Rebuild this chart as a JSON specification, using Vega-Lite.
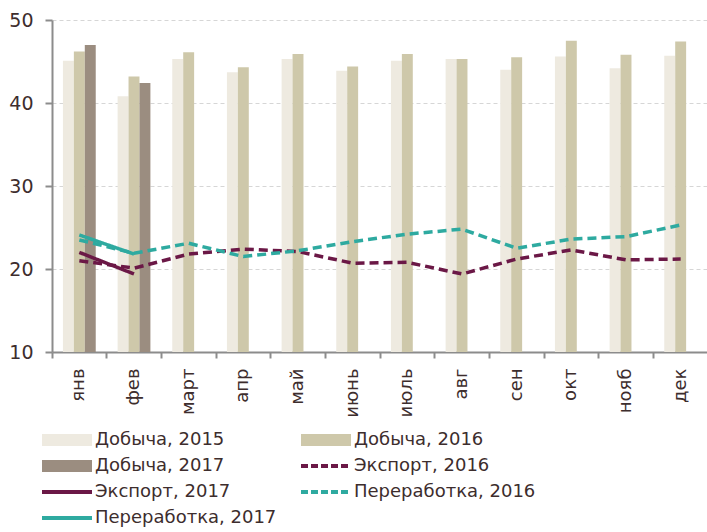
{
  "$schema": "https://vega.github.io/schema/vega-lite/v6.json",
  "width": 656,
  "height": 332,
  "autosize": {"type": "none"},
  "padding": {"left": 52, "top": 20, "right": 0, "bottom": 180},
  "background": "white",
  "config": {"view": {"stroke": null}},
  "data": {
    "values": [
      {"m": "янв", "s": "Добыча, 2015", "v": 45.1, "t": "bar"},
      {"m": "фев", "s": "Добыча, 2015", "v": 40.8, "t": "bar"},
      {"m": "март", "s": "Добыча, 2015", "v": 45.3, "t": "bar"},
      {"m": "апр", "s": "Добыча, 2015", "v": 43.7, "t": "bar"},
      {"m": "май", "s": "Добыча, 2015", "v": 45.3, "t": "bar"},
      {"m": "июнь", "s": "Добыча, 2015", "v": 43.9, "t": "bar"},
      {"m": "июль", "s": "Добыча, 2015", "v": 45.1, "t": "bar"},
      {"m": "авг", "s": "Добыча, 2015", "v": 45.3, "t": "bar"},
      {"m": "сен", "s": "Добыча, 2015", "v": 44.0, "t": "bar"},
      {"m": "окт", "s": "Добыча, 2015", "v": 45.6, "t": "bar"},
      {"m": "нояб", "s": "Добыча, 2015", "v": 44.2, "t": "bar"},
      {"m": "дек", "s": "Добыча, 2015", "v": 45.7, "t": "bar"},
      {"m": "янв", "s": "Добыча, 2016", "v": 46.2, "t": "bar"},
      {"m": "фев", "s": "Добыча, 2016", "v": 43.2, "t": "bar"},
      {"m": "март", "s": "Добыча, 2016", "v": 46.1, "t": "bar"},
      {"m": "апр", "s": "Добыча, 2016", "v": 44.3, "t": "bar"},
      {"m": "май", "s": "Добыча, 2016", "v": 45.9, "t": "bar"},
      {"m": "июнь", "s": "Добыча, 2016", "v": 44.4, "t": "bar"},
      {"m": "июль", "s": "Добыча, 2016", "v": 45.9, "t": "bar"},
      {"m": "авг", "s": "Добыча, 2016", "v": 45.3, "t": "bar"},
      {"m": "сен", "s": "Добыча, 2016", "v": 45.5, "t": "bar"},
      {"m": "окт", "s": "Добыча, 2016", "v": 47.5, "t": "bar"},
      {"m": "нояб", "s": "Добыча, 2016", "v": 45.8, "t": "bar"},
      {"m": "дек", "s": "Добыча, 2016", "v": 47.4, "t": "bar"},
      {"m": "янв", "s": "Добыча, 2017", "v": 47.0, "t": "bar"},
      {"m": "фев", "s": "Добыча, 2017", "v": 42.4, "t": "bar"},
      {"m": "янв", "s": "Экспорт, 2016", "v": 21.0, "t": "line", "d": "dash"},
      {"m": "фев", "s": "Экспорт, 2016", "v": 20.1, "t": "line", "d": "dash"},
      {"m": "март", "s": "Экспорт, 2016", "v": 21.8, "t": "line", "d": "dash"},
      {"m": "апр", "s": "Экспорт, 2016", "v": 22.4, "t": "line", "d": "dash"},
      {"m": "май", "s": "Экспорт, 2016", "v": 22.1, "t": "line", "d": "dash"},
      {"m": "июнь", "s": "Экспорт, 2016", "v": 20.7, "t": "line", "d": "dash"},
      {"m": "июль", "s": "Экспорт, 2016", "v": 20.8, "t": "line", "d": "dash"},
      {"m": "авг", "s": "Экспорт, 2016", "v": 19.4, "t": "line", "d": "dash"},
      {"m": "сен", "s": "Экспорт, 2016", "v": 21.2, "t": "line", "d": "dash"},
      {"m": "окт", "s": "Экспорт, 2016", "v": 22.3, "t": "line", "d": "dash"},
      {"m": "нояб", "s": "Экспорт, 2016", "v": 21.1, "t": "line", "d": "dash"},
      {"m": "дек", "s": "Экспорт, 2016", "v": 21.2, "t": "line", "d": "dash"},
      {"m": "янв", "s": "Экспорт, 2017", "v": 22.0, "t": "line", "d": "solid"},
      {"m": "фев", "s": "Экспорт, 2017", "v": 19.4, "t": "line", "d": "solid"},
      {"m": "янв", "s": "Переработка, 2016", "v": 23.5, "t": "line", "d": "dash"},
      {"m": "фев", "s": "Переработка, 2016", "v": 21.9, "t": "line", "d": "dash"},
      {"m": "март", "s": "Переработка, 2016", "v": 23.1, "t": "line", "d": "dash"},
      {"m": "апр", "s": "Переработка, 2016", "v": 21.5, "t": "line", "d": "dash"},
      {"m": "май", "s": "Переработка, 2016", "v": 22.2, "t": "line", "d": "dash"},
      {"m": "июнь", "s": "Переработка, 2016", "v": 23.3, "t": "line", "d": "dash"},
      {"m": "июль", "s": "Переработка, 2016", "v": 24.2, "t": "line", "d": "dash"},
      {"m": "авг", "s": "Переработка, 2016", "v": 24.8, "t": "line", "d": "dash"},
      {"m": "сен", "s": "Переработка, 2016", "v": 22.5, "t": "line", "d": "dash"},
      {"m": "окт", "s": "Переработка, 2016", "v": 23.6, "t": "line", "d": "dash"},
      {"m": "нояб", "s": "Переработка, 2016", "v": 23.9, "t": "line", "d": "dash"},
      {"m": "дек", "s": "Переработка, 2016", "v": 25.3, "t": "line", "d": "dash"},
      {"m": "янв", "s": "Переработка, 2017", "v": 24.1, "t": "line", "d": "solid"},
      {"m": "фев", "s": "Переработка, 2017", "v": 21.8, "t": "line", "d": "solid"}
    ]
  },
  "encoding": {
    "x": {
      "field": "m",
      "type": "nominal",
      "sort": ["янв", "фев", "март", "апр", "май", "июнь", "июль", "авг", "сен", "окт", "нояб", "дек"],
      "scale": {"paddingInner": 0, "paddingOuter": 0},
      "axis": {
        "title": null,
        "bandPosition": 0,
        "labelAngle": 270,
        "labelAlign": "right",
        "labelBaseline": "middle",
        "labelFont": "DejaVu Sans",
        "labelFontSize": 18,
        "labelColor": "#3d2d2d",
        "labelPadding": 10,
        "tickSize": 6,
        "tickWidth": 2,
        "tickColor": "#8c8c8c",
        "domainColor": "#8c8c8c",
        "domainWidth": 2,
        "grid": false
      }
    },
    "y": {
      "field": "v",
      "type": "quantitative",
      "scale": {"domain": [10, 50], "nice": false, "zero": false},
      "axis": {
        "title": null,
        "values": [10, 20, 30, 40, 50],
        "labelFont": "DejaVu Sans",
        "labelFontSize": 19,
        "labelColor": "#3d2d2d",
        "labelPadding": 12,
        "tickSize": 7,
        "tickWidth": 2,
        "tickColor": "#8c8c8c",
        "domainColor": "#8c8c8c",
        "domainWidth": 2,
        "grid": true,
        "gridColor": "#d6d6d6",
        "gridDash": [4, 3],
        "gridWidth": 1
      }
    },
    "color": {
      "field": "s",
      "type": "nominal",
      "scale": {
        "domain": ["Добыча, 2015", "Добыча, 2016", "Добыча, 2017", "Экспорт, 2016", "Экспорт, 2017", "Переработка, 2016", "Переработка, 2017"],
        "range": ["#eeeae0", "#cec8aa", "#9b8d80", "#6b1846", "#6b1846", "#2eaaa0", "#2eaaa0"]
      },
      "legend": {
        "orient": "none",
        "legendX": 6,
        "legendY": 411,
        "columns": 2,
        "direction": "horizontal",
        "title": null,
        "gridAlign": "all",
        "columnPadding": 16,
        "rowPadding": 8,
        "symbolSize": 2500,
        "symbolType": "stroke",
        "labelOffset": 19,
        "labelFont": "DejaVu Sans",
        "labelFontSize": 18,
        "labelColor": "#3d2d2d",
        "labelLimit": 300,
        "encode": {
          "symbols": {
            "update": {
              "shape": {"signal": "indexof(['Добыча, 2015','Добыча, 2016','Добыча, 2017'], datum.value) >= 0 ? 'M-1,-0.24H1V0.24H-1Z' : 'stroke'"},
              "fill": {"scale": "color", "field": "value"},
              "stroke": {"scale": "color", "field": "value"},
              "strokeWidth": {"signal": "indexof(['Добыча, 2015','Добыча, 2016','Добыча, 2017'], datum.value) >= 0 ? 0 : 4"},
              "strokeDash": {"signal": "indexof(['Экспорт, 2016','Переработка, 2016'], datum.value) >= 0 ? [7, 3] : [1, 0]"},
              "opacity": {"value": 1}
            }
          }
        }
      }
    }
  },
  "layer": [
    {
      "transform": [{"filter": "datum.t === 'bar'"}],
      "mark": {"type": "bar"},
      "encoding": {
        "xOffset": {
          "field": "s",
          "type": "nominal",
          "scale": {"domain": ["Добыча, 2015", "Добыча, 2016", "Добыча, 2017"], "paddingInner": 0, "paddingOuter": 1}
        },
        "y2": {"datum": 10}
      }
    },
    {
      "transform": [{"filter": "datum.t === 'line'"}],
      "mark": {"type": "line", "strokeWidth": 3.5, "strokeCap": "butt"},
      "encoding": {
        "strokeDash": {
          "field": "d",
          "type": "nominal",
          "scale": {"domain": ["dash", "solid"], "range": [[9, 5], [1, 0]]},
          "legend": null
        }
      }
    }
  ]
}
